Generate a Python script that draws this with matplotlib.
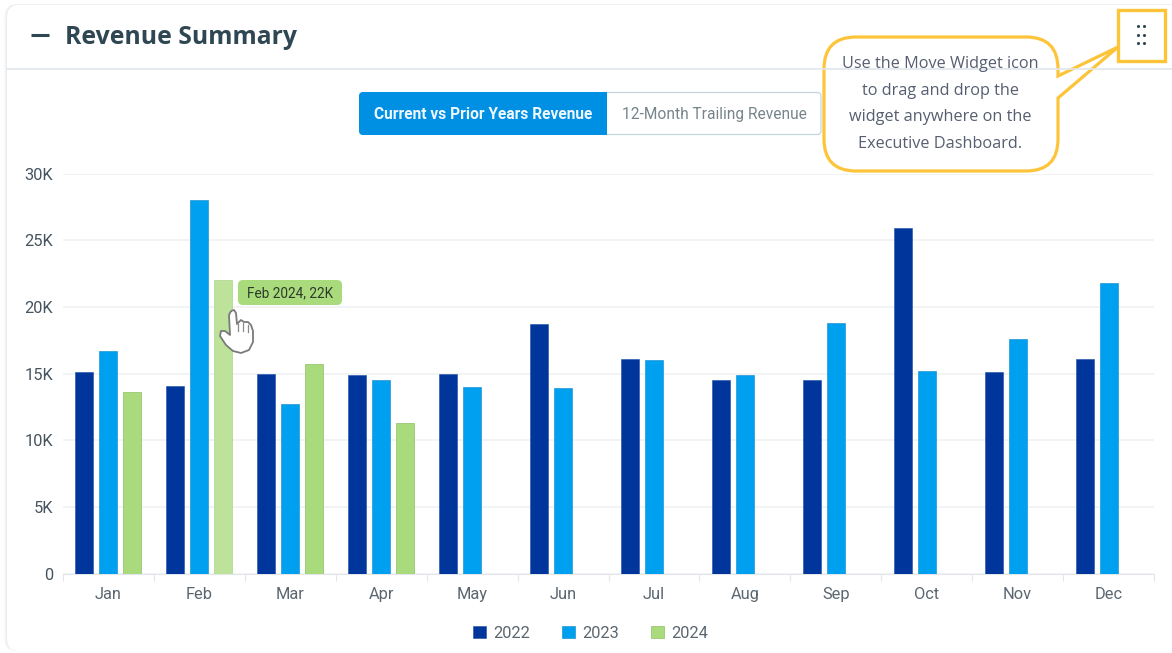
import matplotlib.pyplot as plt
from matplotlib.patches import FancyBboxPatch, PathPatch, Rectangle
from matplotlib.path import Path
import numpy as np

months = ['Jan', 'Feb', 'Mar', 'Apr', 'May', 'Jun', 'Jul', 'Aug', 'Sep', 'Oct', 'Nov', 'Dec']
rev_2022 = [15100, 14100, 15000, 14900, 15000, 18700, 16100, 14500, 14500, 25900, 15100, 16100]
rev_2023 = [16700, 28000, 12700, 14500, 14000, 13900, 16000, 14900, 18800, 15200, 17600, 21800]
rev_2024 = [13600, 22000, 15700, 11300]
y_ticks = [0, 5000, 10000, 15000, 20000, 25000, 30000]
y_labels = ['0', '5K', '10K', '15K', '20K', '25K', '30K']

W, H = 1172, 653
fig = plt.figure(figsize=(W / 100, H / 100), dpi=100, facecolor='white')
plt.rcParams['font.family'] = ['Roboto', 'DejaVu Sans']

# chart area, placed in pixels
ax = fig.add_axes([63 / W, (H - 573.5) / H, 1091 / W, 400 / H])
x = np.arange(12)
bw = 18 / 90.9
off = 24 / 90.9
b1 = ax.bar(x - off, rev_2022, bw, color='#00369c', edgecolor='#1d4fa8', linewidth=0.4, label='2022', zorder=3)
b2 = ax.bar(x, rev_2023, bw, color='#00a0f0', edgecolor='#0a86c8', linewidth=0.4, label='2023', zorder=3)
b3 = ax.bar(x[:4] + off, rev_2024, bw, color='#a9db7d', edgecolor='#8fbf68', linewidth=0.5, label='2024', zorder=3)
b3[1].set_facecolor('#bde39b')
b3[1].set_edgecolor('#aed48c')

ax.set_xlim(-0.5, 11.5)
ax.set_ylim(0, 30000)
ax.set_yticks(y_ticks)
ax.set_yticklabels(y_labels)
ax.set_xticks(x)
ax.set_xticklabels(months)
ax.set_xticks(np.arange(-0.5, 12, 1), minor=True)
ax.grid(axis='y', color='#eef0f3', linewidth=1.1, zorder=0)
ax.tick_params(axis='y', length=0, pad=7, labelsize=11.8, labelcolor='#46545f')
ax.tick_params(axis='x', which='major', length=0, pad=9.5, labelsize=11.8, labelcolor='#5a6670')
ax.tick_params(axis='x', which='minor', length=5, width=0.8, color='#e3e7eb')
for s in ['top', 'right', 'left']:
    ax.spines[s].set_visible(False)
ax.spines['bottom'].set_color('#e3e7eb')
ax.patch.set_alpha(0)

leg = fig.legend(handles=[b1, b2, b3], loc='center', bbox_to_anchor=(590.5 / W, (H - 633) / H), ncol=3,
                 frameon=False, fontsize=11.8, handlelength=0.8, handleheight=0.8, handletextpad=0.4,
                 columnspacing=1.98, labelcolor='#5a6670')

# everything around the chart, in pixel coordinates
ui = fig.add_axes([0, 0, 1, 1], zorder=5)
ui.set_xlim(0, W)
ui.set_ylim(H, 0)
ui.axis('off')
ui.patch.set_alpha(0)

bg = fig.add_axes([0, 0, 1, 1], zorder=-1)
bg.set_xlim(0, W)
bg.set_ylim(H, 0)
bg.axis('off')
# card runs off the right side, only a soft shadow shows on the left
for grow, col in [(2.5, '#f7f7f7'), (1.2, '#ececec')]:
    bg.add_patch(FancyBboxPatch((7 - grow, 5 - grow * 0.4), 1300, 646 + grow * 0.4,
                                boxstyle='round,pad=0,rounding_size=12', fc=col, ec='none'))
bg.add_patch(FancyBboxPatch((7, 5), 1300, 646, boxstyle='round,pad=0,rounding_size=12', fc='white', ec='none'))

# header
ui.plot([31, 49], [35, 35], color='#2f4753', lw=2.2, solid_capstyle='butt')
ui.text(65, 37.5, 'Revenue Summary', fontsize=17.8, fontweight='bold', family=['Open Sans', 'DejaVu Sans'],
        color='#2f4753', va='center', ha='left')
ui.plot([7, 1172], [69, 69], color='#dfe6ea', lw=1.2)

# toggle buttons
ui.add_patch(FancyBboxPatch((600, 92.5), 221, 42, boxstyle='round,pad=0,rounding_size=4',
                            fc='white', ec='#c5d5dd', lw=0.9))
ui.add_patch(FancyBboxPatch((359, 92), 248, 43, boxstyle='round,pad=0,rounding_size=4', fc='#0090e3', ec='none'))
ui.add_patch(Rectangle((600, 92), 7, 43, fc='#0090e3', ec='none'))
ui.text(483, 114.5, 'Current vs Prior Years Revenue', fontsize=11.2, fontweight='bold', color='#eef7fd',
        ha='center', va='center')
ui.text(714.5, 114.5, '12-Month Trailing Revenue', fontsize=11.2, color='#77848c', ha='center', va='center')

# tooltip
ui.add_patch(FancyBboxPatch((238, 280), 104, 25, boxstyle='round,pad=0,rounding_size=5', fc='#a9db7d', ec='none'))
ui.text(290, 293, 'Feb 2024, 22K', fontsize=9.8, color='#2e3a2a', ha='center', va='center')

# hand cursor
hand = [(231, 311), (234, 310), (236, 313), (237, 324), (241, 320), (244, 322), (248, 322), (251, 325),
        (253, 331), (253, 342), (249, 350), (241, 353), (233, 351), (226, 345), (220, 336), (221, 331),
        (225, 331), (230, 335), (229, 315), (231, 311)]
ui.add_patch(PathPatch(Path(hand), fc='white', ec='#7a7a7a', lw=1.3, joinstyle='round'))
for hx0, hy0, hy1 in [(238, 324, 331), (243, 323, 331), (248, 325, 332)]:
    ui.plot([hx0, hx0], [hy0, hy1], color='#8a8a8a', lw=0.9)

# callout with pointer
l, r, t, b, rad = 824, 1058, 37, 171, 32
verts = [(l + rad, t), (r - rad, t), (r, t), (r, t + rad), (r, 76), (1118, 47), (r, 98), (r, b - rad), (r, b),
         (r - rad, b), (l + rad, b), (l, b), (l, b - rad), (l, t + rad), (l, t), (l + rad, t)]
codes = [Path.MOVETO, Path.LINETO, Path.CURVE3, Path.CURVE3, Path.LINETO, Path.LINETO, Path.LINETO, Path.LINETO,
         Path.CURVE3, Path.CURVE3, Path.LINETO, Path.CURVE3, Path.CURVE3, Path.LINETO, Path.CURVE3, Path.CURVE3]
ui.add_patch(PathPatch(Path(verts, codes), fc='white', ec='#fdc43a', lw=2.3, joinstyle='miter'))
callout = ['Use the Move Widget icon', 'to drag and drop the', 'widget anywhere on the', 'Executive Dashboard.']
for line, ypos in zip(callout, [64, 91, 117, 144]):
    ui.text(940, ypos, line, fontsize=11.7, color='#565e70', ha='center', va='center',
            family=['Open Sans', 'DejaVu Sans'])

# move widget icon
ui.add_patch(Rectangle((1118, 10), 46.5, 51, fc='white', ec='#fdc43a', lw=2.4))
dot_x = [1137.5, 1144]
dot_y = [26, 34.5, 43]
ui.scatter(np.repeat(dot_x, 3), dot_y * 2, s=5, color='#2f4753', linewidths=0)

fig.savefig('out.png', dpi=100)
